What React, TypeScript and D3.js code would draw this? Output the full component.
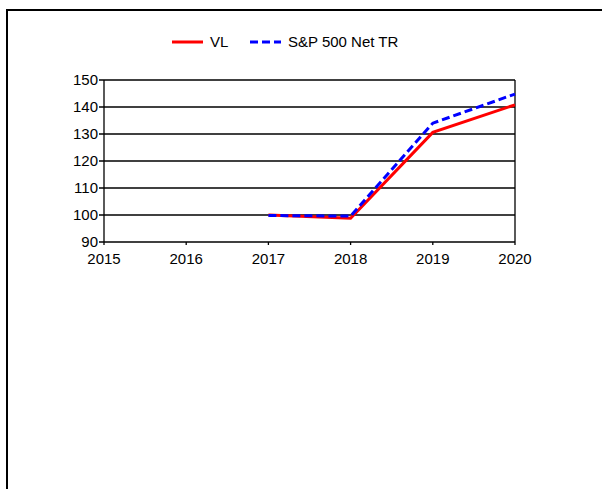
import React from 'react'
import * as d3 from 'd3'

const years = [2015, 2016, 2017, 2018, 2019, 2020]
const yTicks = [90, 100, 110, 120, 130, 140, 150]
const vlYears = [2017, 2018, 2019, 2020]
const vlValues = [100, 98.8, 130.6, 140.8]
const spYears = [2017, 2018, 2019, 2020]
const spValues = [99.8, 99.6, 134, 144.8]

const W = 602
const H = 489
const left = 104
const right = 515
const top = 80
const bottom = 242
const font = 'Arial, "Liberation Sans", sans-serif'

export default function App() {
  const x = d3.scaleLinear().domain([2015, 2020]).range([left, right])
  const y = d3.scaleLinear().domain([90, 150]).range([bottom, top])

  const line = d3.line<[number, number]>()
    .x(d => x(d[0]))
    .y(d => y(d[1]))

  const vl = vlYears.map((yr, i) => [yr, vlValues[i]] as [number, number])
  const sp = spYears.map((yr, i) => [yr, spValues[i]] as [number, number])

  return (
    <svg width={W} height={H} style={{ position: 'absolute', left: 0, top: 0 }}>
      <rect x={0} y={0} width={W} height={H} fill='#fff' />
      <rect x={7} y={10} width={W + 20} height={H + 20} fill='none' stroke='#000' strokeWidth={2} />

      {/* legend */}
      <line x1={172} x2={203} y1={42} y2={42} stroke='#ff0000' strokeWidth={3} />
      <text x={210} y={47} fontFamily={font} fontSize={15} fill='#000'>VL</text>
      <line x1={250} x2={281} y1={42} y2={42} stroke='#0000ff' strokeWidth={3} strokeDasharray='8 4' />
      <text x={288} y={47} fontFamily={font} fontSize={15} fill='#000'>S&amp;P 500 Net TR</text>

      {/* grid */}
      {yTicks.map(t => (
        <g key={t}>
          <line x1={left - 5} x2={right} y1={y(t)} y2={y(t)} stroke='#000' strokeWidth={1.3} />
          <text x={left - 6} y={y(t) + 5} textAnchor='end' fontFamily={font} fontSize={15} fill='#000'>{t}</text>
        </g>
      ))}
      <line x1={left} x2={left} y1={top} y2={bottom} stroke='#000' strokeWidth={1.3} />
      <line x1={right} x2={right} y1={top} y2={bottom} stroke='#000' strokeWidth={1.3} />
      {years.map(yr => (
        <g key={yr}>
          <line x1={x(yr)} x2={x(yr)} y1={bottom} y2={bottom + 3} stroke='#000' strokeWidth={1.3} />
          <text x={x(yr)} y={bottom + 22} textAnchor='middle' fontFamily={font} fontSize={15} fill='#000'>{yr}</text>
        </g>
      ))}

      <path d={line(vl) || ''} fill='none' stroke='#ff0000' strokeWidth={3} />
      <path d={line(sp) || ''} fill='none' stroke='#0000ff' strokeWidth={3} strokeDasharray='8 4' />
    </svg>
  )
}
